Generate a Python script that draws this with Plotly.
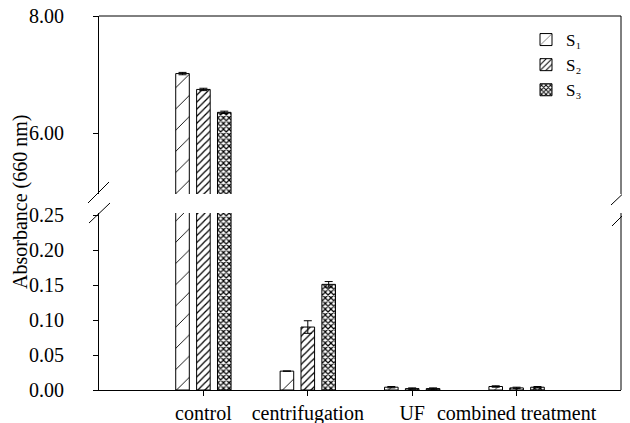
import plotly.graph_objects as go

categories = ["control", "centrifugation", "UF", "combined treatment"]
series_names = ["S\u2081", "S\u2082", "S\u2083"]
s1 = [7.02, 0.027, 0.004, 0.005]
s2 = [6.75, 0.090, 0.002, 0.003]
s3 = [6.36, 0.151, 0.002, 0.004]
s1_err = [0.02, 0.0, 0.001, 0.001]
s2_err = [0.02, 0.009, 0.001, 0.001]
s3_err = [0.02, 0.004, 0.001, 0.001]
lower_ticks = [0.00, 0.05, 0.10, 0.15, 0.20, 0.25]
upper_ticks = [6.00, 8.00]

values = [s1, s2, s3]
errors = [s1_err, s2_err, s3_err]
patterns = [
    dict(shape="/", size=15, solidity=0.06, fgcolor="black", bgcolor="white"),
    dict(shape="/", size=5, solidity=0.25, fgcolor="black", bgcolor="white"),
    dict(shape="x", size=4, solidity=0.5, fgcolor="black", bgcolor="white"),
]

FONT = "Liberation Serif"
OFF = 8  # page body margin
W, H = 630 - OFF, 423 - OFF
L, R, T, B = 99 - OFF, 9, 16 - OFF, 33
PW = W - L - R
PH = H - T - B
base_screen = 390

fig = go.Figure()
xpos = list(range(len(categories)))
for i in range(3):
    for xa, ya, show in (("x", "y", True), ("x2", "y2", False)):
        fig.add_trace(go.Bar(
            x=xpos, y=values[i], name=series_names[i],
            xaxis=xa, yaxis=ya, showlegend=show,
            marker=dict(color="white", line=dict(color="black", width=1),
                        pattern=patterns[i]),
            error_y=dict(type="data", array=errors[i], color="black",
                         thickness=1, width=4),
        ))

def px_x(px):
    return (px - OFF - L) / PW

def px_y(py):
    return (base_screen - py) / PH

upper_dom_bot = px_y(194)
lower_dom_top = px_y(213)

axfont = dict(family=FONT, size=20, color="black")

fig.update_layout(
    template="none",
    width=W, height=H,
    margin=dict(l=L, r=R, t=T, b=B, pad=0, autoexpand=False),
    paper_bgcolor="white", plot_bgcolor="white",
    barmode="group", bargap=0.4, bargroupgap=0.35,
    font=dict(family=FONT, size=20, color="black"),
    showlegend=True,
    legend=dict(x=px_x(526), y=px_y(22), xanchor="left", yanchor="top",
                font=dict(family=FONT, size=17, color="black"),
                bgcolor="rgba(0,0,0,0)", borderwidth=0,
                tracegroupgap=0, itemwidth=30),
    xaxis=dict(domain=[0, 1], range=[-1, 4], tickmode="array",
               tickvals=xpos, ticktext=categories, ticks="outside",
               ticklen=5, tickcolor="black", showline=True, linecolor="black",
               linewidth=1, showgrid=False, zeroline=False, anchor="y",
               automargin=False, tickfont=axfont),
    xaxis2=dict(domain=[0, 1], range=[-1, 4], matches="x", anchor="y2",
                showticklabels=False, ticks="", showline=False,
                showgrid=False, zeroline=False, automargin=False),
    yaxis=dict(domain=[0, lower_dom_top], range=[0, 0.253],
               tickmode="array", tickvals=lower_ticks, tickformat=".2f",
               ticks="outside", ticklen=5, tickcolor="black", showline=True,
               linecolor="black", linewidth=1, showgrid=False,
               zeroline=False, anchor="x", automargin=False,
               ticklabelstandoff=25, tickfont=axfont),
    yaxis2=dict(domain=[upper_dom_bot, 1], range=[4.97, 8.0],
                tickmode="array", tickvals=upper_ticks, tickformat=".2f",
                ticks="outside", ticklen=5, tickcolor="black", showline=True,
                linecolor="black", linewidth=1, showgrid=False,
                zeroline=False, anchor="x2", automargin=False,
                ticklabeloverflow="allow",
                ticklabelstandoff=25, tickfont=axfont),
)

# frame lines: top and right (both panels)
frame = [
    (0, 1, 1, 1),
    (1, upper_dom_bot, 1, 1),
    (1, 0, 1, lower_dom_top),
]
for x0, y0, x1, y1 in frame:
    fig.add_shape(type="line", xref="paper", yref="paper",
                  x0=x0, y0=y0, x1=x1, y1=y1,
                  line=dict(color="black", width=1))

breaks = [
    ((88, 203), (109, 182)),
    ((89, 223), (110, 203)),
    ((611, 205), (630, 187)),
    ((612, 226), (630, 208)),
]
for (x0, y0), (x1, y1) in breaks:
    fig.add_shape(type="line", xref="paper", yref="paper",
                  x0=px_x(x0), y0=px_y(y0), x1=px_x(x1), y1=px_y(y1),
                  line=dict(color="black", width=1))

fig.add_annotation(
    text="Absorbance (660 nm)", textangle=-90, showarrow=False,
    xref="paper", yref="paper", x=px_x(20), y=px_y(202),
    xanchor="center", yanchor="middle",
    font=dict(family=FONT, size=20, color="black"),
)

fig.write_html("out.html")
